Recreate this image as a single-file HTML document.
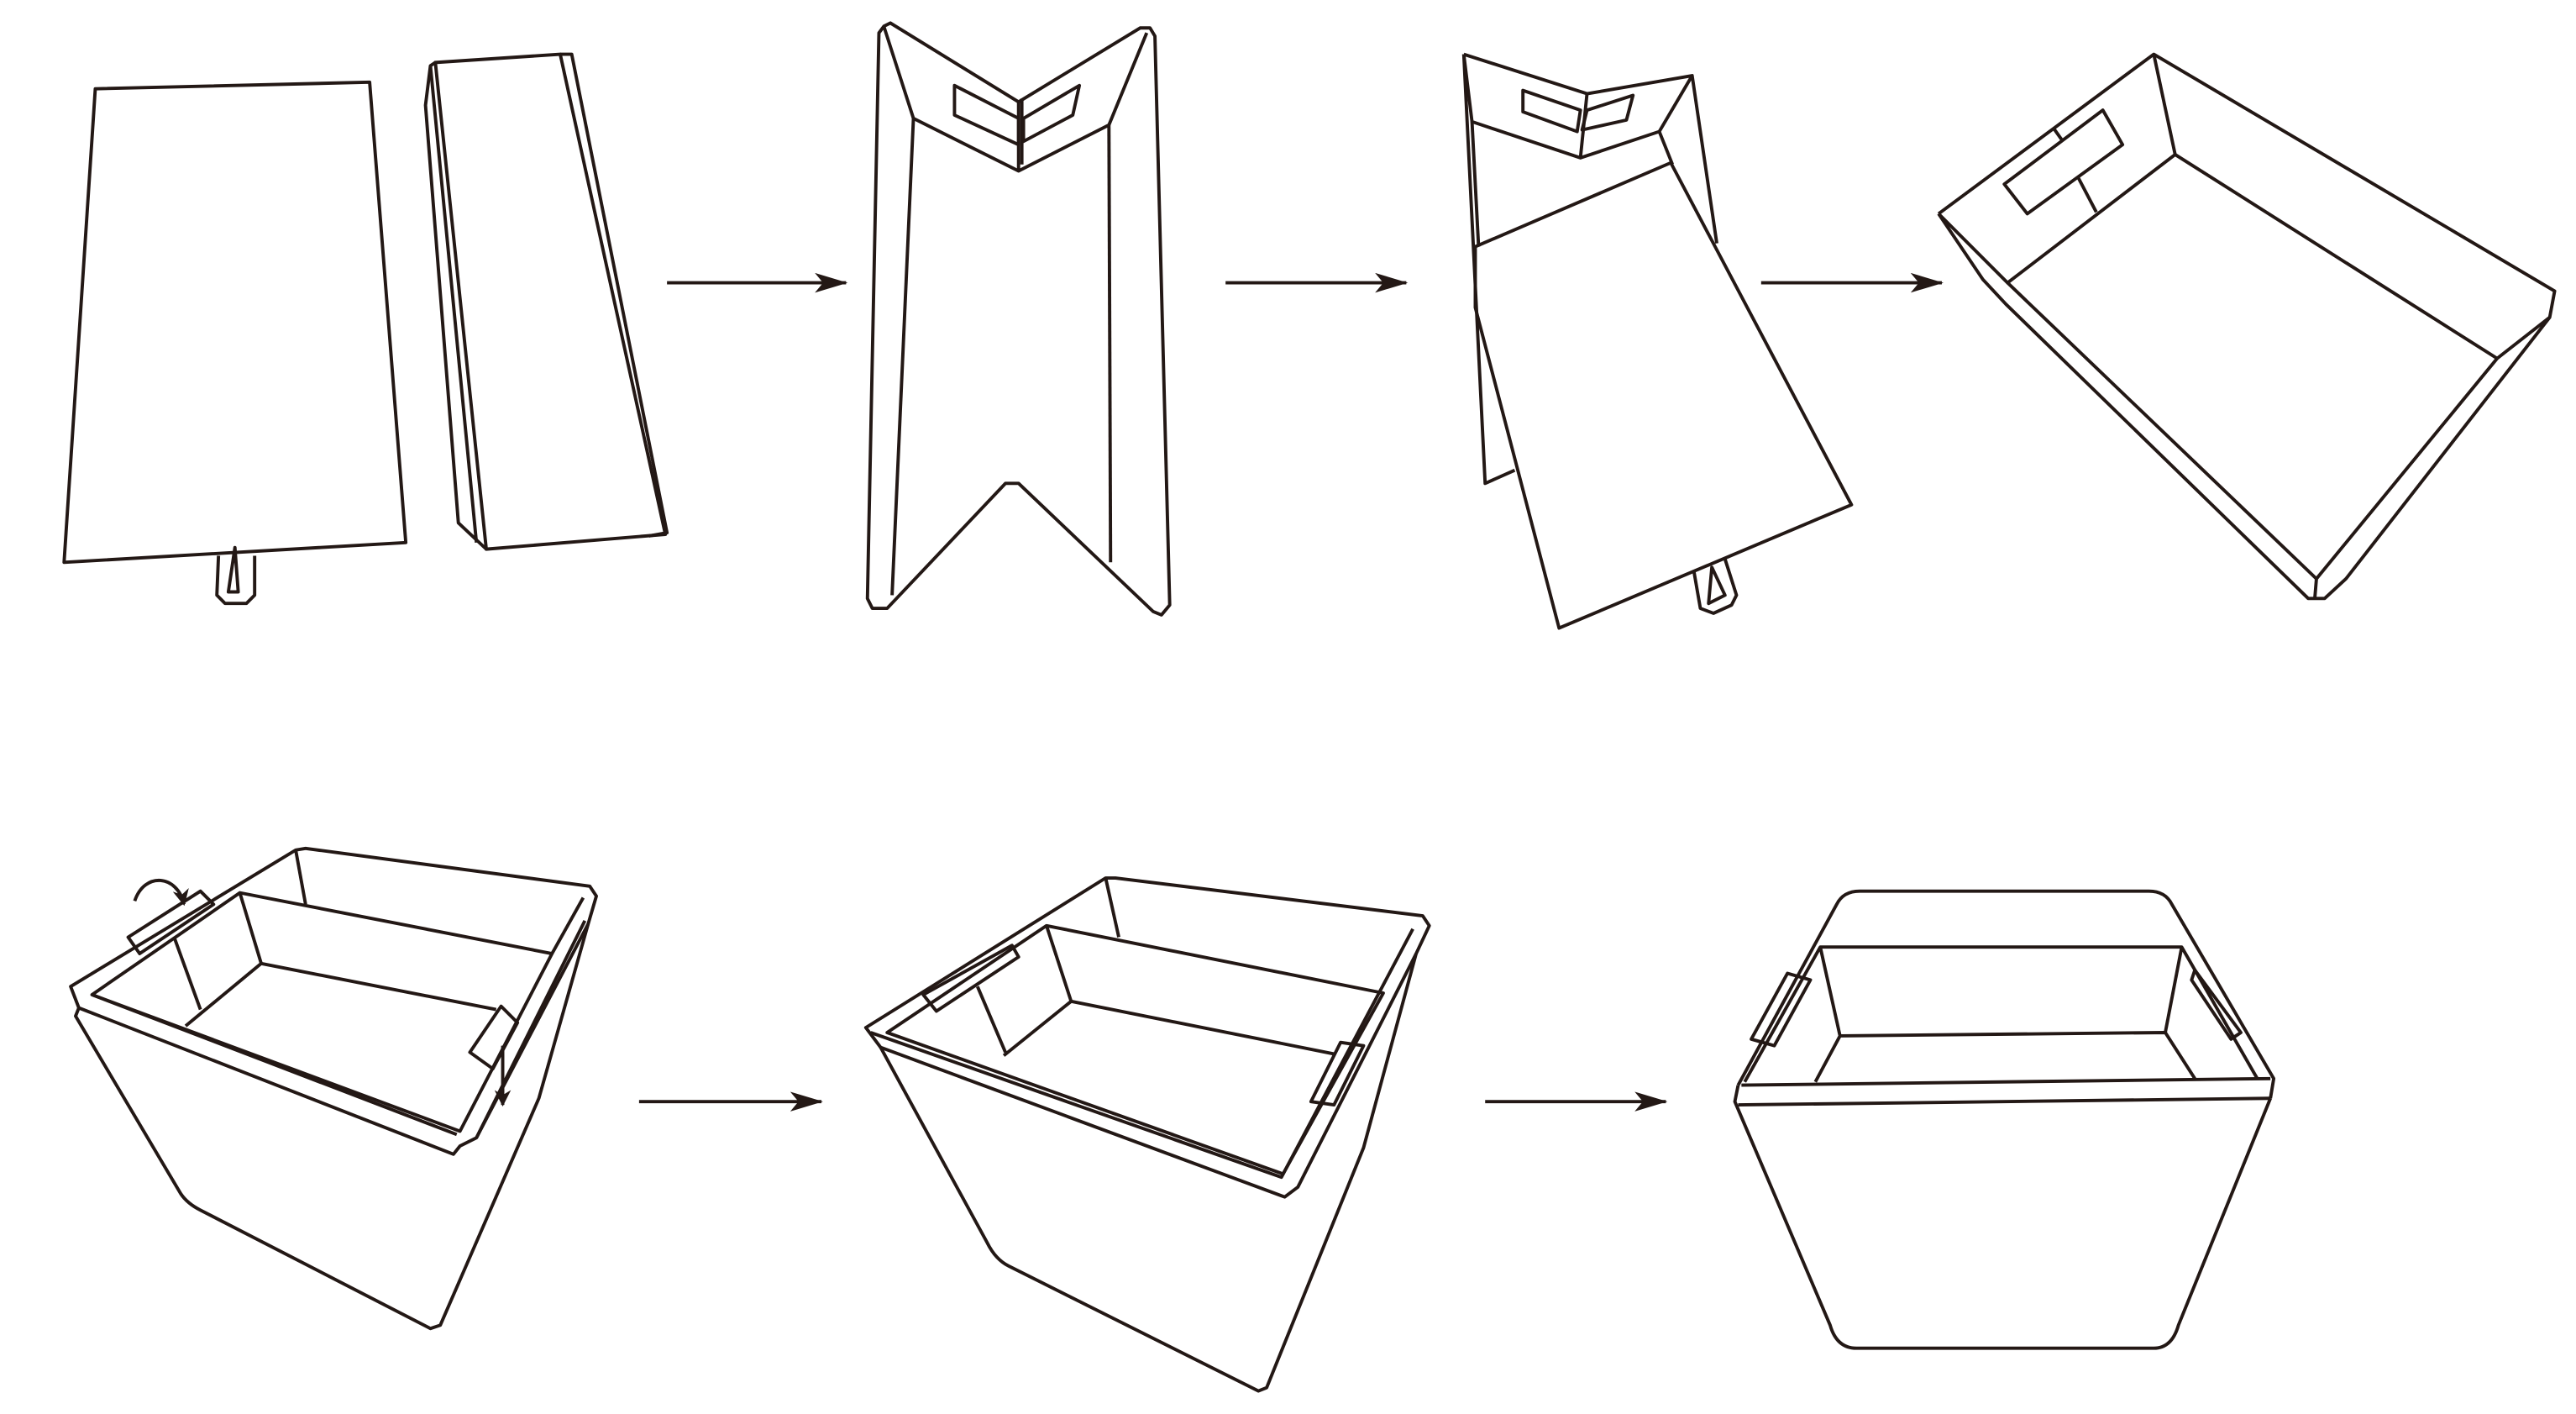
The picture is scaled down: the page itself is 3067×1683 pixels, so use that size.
<!DOCTYPE html>
<html><head><meta charset="utf-8"><style>
html,body{margin:0;padding:0;background:#fff;}
svg{display:block;width:3067px;height:1683px;}
</style></head><body>
<svg viewBox="0 0 1568 860" preserveAspectRatio="none" xmlns="http://www.w3.org/2000/svg">
<defs><marker id="a" viewBox="0 0 10 10" refX="9" refY="5" markerWidth="10" markerHeight="10" markerUnits="userSpaceOnUse" orient="auto"><path d="M0,0 L10,5 L0,10 L3,5 z" fill="#231815"/></marker>
<marker id="b" viewBox="0 0 20 12" refX="19" refY="6" markerWidth="20" markerHeight="12" markerUnits="userSpaceOnUse" orient="auto"><path d="M0,0 L20,6 L0,12 L5,6 z" fill="#231815"/></marker></defs>
<g fill="none" stroke="#231815" stroke-width="2" stroke-linejoin="round">
<!-- fig1 -->
<polygon points="58,54 225,50 247,330 39,342"/>
<path d="M133,338 L132,362 L137,367 L150,367 L155,362 L155,338"/>
<path d="M139,360 L143,333 L145,360 Z"/>
<polygon points="265,38 341,33 405,325 296,334"/>
<path d="M341,33 L348,33 L406,324 L395,326"/>
<path d="M265,38 L262,40 L259,64 L279,318 L296,334"/>
<path d="M262,40 L290,330"/>
<!-- arrows top -->
<line x1="406" y1="172" x2="515" y2="172" marker-end="url(#b)"/>
<line x1="746" y1="172" x2="856" y2="172" marker-end="url(#b)"/>
<line x1="1072" y1="172" x2="1182" y2="172" marker-end="url(#b)"/>
<!-- fig2 -->
<path d="M538,16 L542,14 L620,62 L694,17 L700,17 L703,22 L712,368 L707,374 L702,372 L620,294 L612,294 L540,370 L531,370 L528,364 L535,20 Z"/>
<path d="M538,16 L556,72 L620,104 L675,76 L698,20"/>
<path d="M556,72 L543,362"/>
<path d="M675,76 L676,342"/>
<path d="M620,62 L620,104"/>
<path d="M581,52 L620,72 L620,88 L581,70 Z"/>
<path d="M623,72 L657,52 L653,70 L623,86 Z"/>
<path d="M622,60 L622,100"/>
<!-- fig3 -->
<path d="M891,33 L966,57 L1030,46 L1045,148"/>
<path d="M891,33 L904,294 L922,286"/>
<path d="M891,33 L896,74 L962,96 L1010,80 L1030,46"/>
<path d="M896,74 L900,150"/>
<path d="M1010,80 L1018,100"/>
<path d="M966,57 L962,96"/>
<path d="M927,55 L962,67 L960,80 L927,68 Z"/>
<path d="M966,67 L994,58 L990,73 L963,79 Z"/>
<polygon points="898,150 1017,99 1127,307 949,382 898,187"/>
<path d="M1031,347 L1035,370 L1043,373 L1054,368 L1057,362 L1050,340"/>
<path d="M1040,367 L1042,345 L1050,362 Z"/>
<!-- fig4 -->
<path d="M1180,130 L1311,33 L1555,177 L1552,193 L1520,218"/>
<path d="M1180,130 L1222,172 L1324,94 L1311,33"/>
<path d="M1324,94 L1520,218"/>
<path d="M1222,172 L1410,352"/>
<path d="M1180,130 L1207,170 L1221,185 L1405,364 L1415,364 L1428,352 L1552,193"/>
<path d="M1520,218 L1410,352 L1409,364"/>
<path d="M1220,112 L1280,67 L1292,88 L1234,130 Z"/>
<path d="M1265,108 L1276,129"/>
<path d="M1250,78 L1255,85"/>
<!-- arrows bottom -->
<line x1="389" y1="670" x2="500" y2="670" marker-end="url(#b)"/>
<line x1="904" y1="670" x2="1014" y2="670" marker-end="url(#b)"/>
<!-- fig5 -->
<path d="M43,600 L180,517 L186,516 L359,539 L363,545 L358,562 L290,692 L280,697 L276,702 L48,613 Z"/>
<path d="M48,613 L46,618 L110,726 Q114,732 122,736 L262,808 L268,806 L328,668 L358,562"/>
<path d="M56,605 L146,543 L336,580 L280,688 Z"/>
<path d="M56,605 L278,690"/>
<path d="M146,543 L159,586 L113,624"/>
<path d="M159,586 L302,614"/>
<path d="M106,570 L122,614"/>
<path d="M180,517 L186,550"/>
<path d="M336,580 L355,546"/>
<path d="M290,692 L356,560"/>
<path d="M78,570 L122,542 L130,550 L85,580 Z"/>
<path d="M82,548 C88,530 108,532 112,550" marker-end="url(#a)"/>
<path d="M286,640 L305,612 L315,622 L300,650 Z"/>
<path d="M306,636 L306,672" marker-end="url(#a)"/>
<!-- fig6 -->
<path d="M527,625 L673,534 L679,534 L866,557 L870,563 L862,580 L790,722 L782,728 L536,637 Z"/>
<path d="M536,637 L601,756 Q606,766 614,770 L766,846 L771,844 L830,698 L862,580"/>
<path d="M530,628 L780,716 L860,565"/>
<path d="M540,628 L637,563 L842,604 L781,714 Z"/>
<path d="M637,563 L652,609 L611,642"/>
<path d="M652,609 L812,641"/>
<path d="M595,600 L612,640"/>
<path d="M673,534 L681,570"/>
<path d="M562,605 L616,575 L620,582 L570,615 Z"/>
<path d="M798,670 L816,634 L830,636 L812,672 Z"/>
<!-- fig7 -->
<path d="M1058,660 L1118,550 Q1122,542 1132,542 L1308,542 Q1318,542 1322,550 L1384,656 L1382,668"/>
<path d="M1058,660 L1056,670 L1114,806 Q1118,820 1130,820 L1311,820 Q1322,820 1326,806 L1382,668"/>
<path d="M1060,660 L1382,656"/>
<path d="M1058,672 L1382,668"/>
<path d="M1062,658 L1108,576 L1328,576 L1374,656"/>
<path d="M1108,576 L1120,630 L1105,658"/>
<path d="M1120,630 L1318,628 L1336,656"/>
<path d="M1328,576 L1318,628"/>
<path d="M1066,632 L1088,592 L1102,596 L1080,636 Z"/>
<path d="M1336,590 L1364,628 L1358,632 L1334,596 Z"/>
</g>
</svg>
</body></html>
